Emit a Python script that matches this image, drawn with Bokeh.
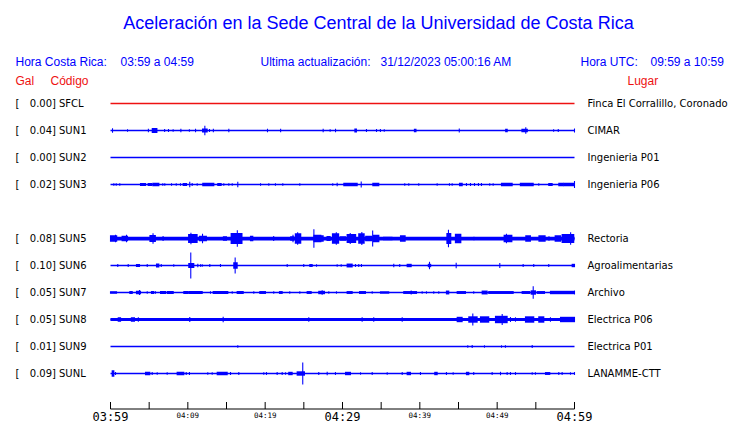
from bokeh.plotting import figure
from bokeh.models import Range1d, ColumnDataSource
from bokeh.embed import file_html
from bokeh.resources import INLINE
from bokeh.core.properties import value

# ---------------- data ----------------
TITLE = "Aceleración en la Sede Central de la Universidad de Costa Rica"
HORA_CR = "03:59 a 04:59"
HORA_UTC = "09:59 a 10:59"
UPDATED = "31/12/2023 05:00:16 AM"

codes = ["SFCL", "SUN1", "SUN2", "SUN3", "SUN5", "SUN6", "SUN7", "SUN8", "SUN9", "SUNL"]
places = ["Finca El Corralillo, Coronado", "CIMAR", "Ingenieria P01", "Ingenieria P06",
          "Rectoria", "Agroalimentarias", "Archivo", "Electrica P06", "Electrica P01",
          "LANAMME-CTT"]
gal_peak = [0.00, 0.04, 0.00, 0.02, 0.08, 0.10, 0.05, 0.05, 0.01, 0.09]
row_slot = [0, 1, 2, 3, 5, 6, 7, 8, 9, 10]          # slot 4 is empty (SUN4 missing)
noise_mgal = [0, 0, 0, 0, 15, 0, 0, 12, 0, 0]       # continuous background band

tick_minutes = list(range(0, 61, 5))
label_minutes = [0, 10, 20, 30, 40, 50, 60]
tick_labels = ["03:59", "04:09", "04:19", "04:29", "04:39", "04:49", "04:59"]
label_big = [True, False, False, True, False, False, True]

# bursts: (start minute, end minute, half amplitude in mGal)
SFCL = []
SUN1 = [(0.26, 0.26, 14), (2.2, 2.2, 6), (4.9, 4.9, 10), (5.4, 6.0, 16), (7.0, 7.0, 8),
        (7.5, 7.5, 8), (8.1, 8.1, 6), (9.1, 9.1, 10), (10.2, 10.2, 6), (11.0, 11.0, 10),
        (11.9, 12.5, 12), (12.2, 12.2, 34), (12.8, 12.8, 8), (13.3, 13.3, 10), (15.3, 15.3, 10),
        (20.3, 20.3, 10), (22.0, 22.0, 10), (27.5, 27.5, 10), (28.4, 28.4, 6), (29.1, 29.1, 10),
        (31.6, 31.8, 12), (33.1, 33.1, 8), (34.4, 34.4, 8), (34.9, 34.9, 8), (35.4, 35.4, 6),
        (39.3, 39.5, 10), (45.1, 45.1, 12), (51.1, 51.3, 10), (53.2, 53.9, 10), (53.7, 53.7, 22),
        (57.3, 57.3, 6), (57.9, 57.9, 8), (60.0, 60.0, 12)]
SUN2 = []
SUN3 = [(0.43, 0.43, 6), (0.74, 0.74, 6), (1.2, 1.2, 6), (3.88, 4.53, 8), (4.87, 5.3, 8),
        (5.47, 6.25, 10), (6.76, 6.76, 6), (7.02, 7.02, 6), (7.89, 7.89, 6), (8.5, 8.5, 6),
        (9.05, 9.05, 6), (9.4, 9.83, 8), (10.25, 10.25, 18), (10.56, 10.56, 8), (11.21, 11.21, 6),
        (11.93, 13.36, 10), (13.87, 14.31, 8), (14.65, 14.65, 6), (15.3, 15.3, 6), (15.74, 15.74, 6),
        (16.46, 16.46, 18), (19.4, 19.4, 6), (20.47, 20.47, 6), (21.33, 21.33, 6), (22.28, 22.28, 6),
        (24.48, 24.48, 6), (28.74, 28.74, 6), (29.31, 29.31, 10), (30.17, 31.9, 10), (32.42, 32.42, 20),
        (33.92, 34.69, 10), (38.05, 38.05, 6), (38.57, 38.57, 6), (39.86, 39.86, 6), (42.24, 42.24, 6),
        (43.83, 43.83, 6), (44.18, 44.18, 6), (45.13, 45.48, 10), (46.03, 46.03, 8), (46.55, 46.55, 8),
        (47.07, 47.07, 8), (47.58, 47.58, 8), (47.97, 47.97, 8), (49.04, 49.04, 6), (49.48, 49.48, 6),
        (50.56, 51.94, 10), (53.0, 54.66, 10), (55.38, 55.38, 6), (56.67, 57.11, 8), (57.97, 58.53, 10),
        (58.61, 59.9, 10), (60.0, 60.0, 24)]
SUN5 = [(0.0, 0.8, 22), (0.65, 0.65, 26), (1.5, 2.2, 18), (2.07, 2.07, 26), (2.6, 2.6, 8),
        (4.1, 4.1, 8), (5.1, 5.8, 24), (5.5, 5.5, 38), (6.8, 6.8, 16), (7.3, 7.3, 8),
        (10.1, 11.2, 32), (10.4, 10.4, 42), (11.5, 12.4, 18), (11.9, 11.9, 34), (13.6, 13.6, 8),
        (14.6, 15.0, 14), (15.6, 17.0, 40), (16.4, 16.4, 62), (18.1, 18.4, 18), (19.2, 19.2, 8),
        (21.1, 21.1, 16), (23.3, 23.7, 14), (23.6, 23.6, 26), (23.9, 24.6, 38), (24.2, 24.2, 46),
        (25.9, 25.9, 8), (26.3, 27.2, 26), (26.3, 26.3, 70), (27.2, 27.5, 22), (28.0, 28.4, 16),
        (28.7, 29.5, 38), (29.2, 29.2, 46), (29.7, 30.4, 14), (30.6, 31.7, 32), (31.0, 31.0, 40),
        (32.1, 32.8, 38), (32.5, 32.5, 48), (33.0, 33.8, 18), (33.9, 33.9, 60), (34.0, 34.7, 26),
        (35.3, 36.4, 10), (37.5, 38.1, 22), (41.8, 41.8, 8), (43.5, 44.0, 40), (43.7, 43.7, 66),
        (44.6, 45.3, 34), (47.0, 47.0, 10), (48.3, 48.3, 8), (50.9, 51.9, 26), (51.2, 51.2, 34),
        (53.7, 54.3, 22), (55.4, 56.2, 22), (56.7, 56.7, 14), (57.5, 58.2, 22), (58.4, 59.9, 32),
        (59.5, 59.5, 46)]
SUN6 = [(0.94, 0.94, 8), (2.29, 2.29, 8), (3.36, 3.75, 8), (4.75, 4.75, 8), (5.95, 6.25, 12),
        (6.56, 6.56, 8), (8.18, 8.18, 6), (10.12, 10.77, 16), (10.38, 10.38, 100), (11.29, 11.29, 10),
        (11.64, 11.64, 6), (11.86, 11.86, 6), (12.84, 12.84, 8), (14.22, 14.22, 8), (15.94, 16.38, 22),
        (16.12, 16.12, 60), (22.85, 22.85, 8), (24.99, 24.99, 8), (25.77, 26.08, 8), (26.64, 26.64, 6),
        (29.31, 29.31, 6), (29.83, 29.83, 6), (30.6, 31.25, 12), (31.68, 31.68, 8), (32.1, 32.1, 8),
        (32.45, 32.45, 8), (36.63, 36.63, 10), (37.4, 37.4, 8), (38.36, 38.88, 10), (41.1, 41.4, 10),
        (41.25, 41.25, 26), (44.7, 44.7, 18), (50.34, 50.34, 16), (53.36, 53.36, 8), (54.73, 54.73, 8),
        (56.67, 56.67, 8), (59.7, 60.0, 10)]
SUN7 = [(0.0, 0.78, 6), (2.5, 2.81, 8), (3.36, 3.88, 10), (3.75, 3.75, 16), (4.75, 4.75, 6),
        (5.3, 5.6, 8), (5.82, 5.82, 6), (6.47, 7.11, 8), (7.33, 8.11, 8), (9.48, 10.0, 8),
        (10.12, 11.86, 8), (12.93, 12.93, 6), (13.28, 15.17, 8), (15.74, 15.74, 6), (16.38, 17.16, 8),
        (18.53, 18.53, 6), (19.3, 20.04, 8), (21.11, 21.11, 6), (21.85, 22.2, 8), (23.18, 23.18, 6),
        (24.48, 24.48, 6), (25.43, 25.95, 8), (26.93, 27.67, 10), (27.37, 27.37, 14), (28.23, 28.23, 6),
        (29.22, 29.22, 6), (30.6, 31.25, 8), (32.2, 32.97, 8), (33.84, 33.84, 6), (34.91, 35.98, 6),
        (37.92, 39.57, 8), (38.88, 38.88, 12), (40.3, 40.3, 6), (40.86, 40.86, 6), (41.8, 41.8, 6),
        (42.45, 42.45, 6), (43.44, 43.74, 12), (44.83, 45.9, 8), (46.97, 46.97, 6), (48.06, 48.7, 12),
        (48.91, 52.07, 8), (53.23, 54.21, 8), (54.4, 54.95, 14), (54.66, 54.66, 46), (55.17, 56.12, 8),
        (56.89, 59.9, 10), (60.0, 60.0, 12)]
SUN8 = [(1.0, 1.3, 14), (2.7, 3.1, 14), (3.6, 3.6, 14), (10.25, 10.25, 16), (14.57, 14.57, 18),
        (25.64, 25.64, 14), (32.54, 32.54, 14), (34.04, 34.04, 14), (37.72, 37.72, 14),
        (44.83, 45.47, 18), (46.33, 47.41, 22), (46.85, 46.85, 44), (47.84, 48.91, 22),
        (49.78, 51.29, 26), (50.65, 50.65, 40), (51.72, 51.72, 16), (52.37, 52.37, 14),
        (53.66, 54.73, 22), (55.38, 56.03, 22), (56.89, 56.89, 14), (58.19, 60.0, 18)]
SUN9 = [(16.46, 16.46, 6), (46.2, 46.2, 6), (46.77, 46.77, 8), (48.36, 48.36, 6),
        (50.56, 50.56, 6), (51.07, 51.07, 6), (54.53, 54.53, 8)]
SUNL = [(0.22, 0.43, 22), (0.65, 0.65, 8), (4.53, 5.08, 10), (5.39, 5.39, 8), (6.04, 6.04, 6),
        (7.33, 7.33, 6), (8.62, 9.48, 10), (9.79, 9.79, 8), (10.21, 10.21, 8), (12.58, 12.58, 6),
        (13.15, 13.15, 6), (13.8, 15.09, 10), (15.52, 15.52, 8), (16.59, 16.59, 8), (19.82, 19.82, 6),
        (20.17, 20.17, 8), (21.55, 21.55, 8), (22.2, 22.2, 8), (22.63, 22.63, 6), (23.05, 23.49, 10),
        (24.14, 25.08, 14), (24.86, 24.86, 84), (26.93, 26.93, 8), (28.02, 28.02, 10), (29.09, 29.09, 8),
        (30.39, 31.03, 10), (32.33, 32.33, 6), (33.84, 33.84, 8), (35.78, 35.78, 6), (37.72, 37.72, 8),
        (38.36, 38.79, 10), (40.08, 40.08, 8), (41.93, 42.24, 10), (43.44, 43.44, 8), (44.31, 44.31, 6),
        (46.03, 46.33, 10), (46.97, 46.97, 8), (49.35, 49.35, 8), (50.43, 50.43, 10), (51.29, 51.29, 8),
        (51.72, 51.72, 8), (52.37, 52.37, 8), (54.53, 54.53, 6), (54.95, 54.95, 6), (56.25, 56.8, 8),
        (57.97, 57.97, 8), (58.4, 58.4, 8), (59.48, 59.48, 6), (60.0, 60.0, 8)]
bursts = [SFCL, SUN1, SUN2, SUN3, SUN5, SUN6, SUN7, SUN8, SUN9, SUNL]

# ---------------- layout ----------------
W, H = 740, 423
PAGE_X0, PAGE_Y0 = 0, 0
TRACE_PX0, TRACE_PX1 = 110, 574           # page x of first / last minute
DUR = 60.0
PPM = (TRACE_PX1 - TRACE_PX0) / DUR
ROW0_Y, ROW_STEP = 103, 27
PX_PER_MGAL = 1.0 / 8.0
EXTRA_HALF_PX = 0.45                      # keeps small wiggles visible above the line
MIN_HALF_W = 0.07
AXIS_Y = 408.5
BLUE = "#0000ff"
RED = "#ee1111"

x_start = -(TRACE_PX0 - PAGE_X0) / PPM
x_end = DUR + (PAGE_X0 + W - TRACE_PX1) / PPM

p = figure(width=W, height=H, output_backend="svg", toolbar_location=None,
           x_range=Range1d(x_start, x_end), y_range=Range1d(PAGE_Y0 + H, PAGE_Y0),
           x_axis_type=None, y_axis_type=None, min_border=0)
p.extra_x_ranges = {"page": Range1d(PAGE_X0, PAGE_X0 + W)}
p.xgrid.visible = False
p.ygrid.visible = False
p.outline_line_color = None
p.background_fill_color = "white"
p.border_fill_color = "white"


def txt(x, y, s, size, color="black", font="Liberation Sans", align="left"):
    p.text(x=[x], y=[y], text=[s], x_range_name="page", text_font=value(font),
           text_font_size=size, text_color=color, text_align=align, text_baseline="middle")


# header
txt(378, 22, TITLE, "18px", BLUE, align="center")
txt(15, 61, "Hora Costa Rica:", "12px", BLUE)
txt(120, 61, HORA_CR, "12px", BLUE)
txt(260, 61, "Ultima actualización:", "12px", BLUE)
txt(380, 61, UPDATED, "12px", BLUE)
txt(580, 61, "Hora UTC:", "12px", BLUE)
txt(650, 61, HORA_UTC, "12px", BLUE)
txt(15, 80.5, "Gal", "12px", RED)
txt(50, 80.5, "Código", "12px", RED)
txt(627, 80.5, "Lugar", "12px", RED)

# traces
ql, qr, qt, qb, qc = [], [], [], [], []
for code, place, g, slot, noise, bl in zip(codes, places, gal_peak, row_slot, noise_mgal, bursts):
    y = ROW0_Y + ROW_STEP * slot
    color = RED if code == "SFCL" else BLUE
    txt(15, y, "[", "10px", font="DejaVu Sans")
    txt(55.5, y, f"{g:.2f}]", "10px", font="DejaVu Sans", align="right")
    txt(58.5, y, code, "10px", font="DejaVu Sans")
    txt(587, y, place, "10px", font="DejaVu Sans")
    p.segment(x0=[0], x1=[DUR], y0=[y], y1=[y], line_color=color, line_width=1.3)
    if noise:
        ql.append(0); qr.append(DUR)
        qt.append(y - noise * PX_PER_MGAL); qb.append(y + noise * PX_PER_MGAL); qc.append(color)
    for t0, t1, a in bl:
        h = a * PX_PER_MGAL + EXTRA_HALF_PX
        ql.append(t0 - MIN_HALF_W); qr.append(t1 + MIN_HALF_W)
        qt.append(y - h); qb.append(y + h); qc.append(color)

src = ColumnDataSource(dict(left=ql, right=qr, top=qt, bottom=qb, color=qc))
p.quad(left="left", right="right", top="top", bottom="bottom", fill_color="color",
       line_color=None, source=src)

# time axis
p.segment(x0=[0], x1=[DUR], y0=[AXIS_Y], y1=[AXIS_Y], line_color="black", line_width=1)
p.segment(x0=tick_minutes, x1=tick_minutes, y0=[AXIS_Y] * len(tick_minutes),
          y1=[AXIS_Y - 7] * len(tick_minutes), line_color="black", line_width=1)
for m, lab, big in zip(label_minutes, tick_labels, label_big):
    p.text(x=[m], y=[416 if big else 414.5], text=[lab],
           text_font=value("DejaVu Sans Mono"), text_font_size="12px" if big else "7.5px",
           text_color="black", text_align="center", text_baseline="middle")

open("out.html", "w").write(file_html(p, INLINE))
